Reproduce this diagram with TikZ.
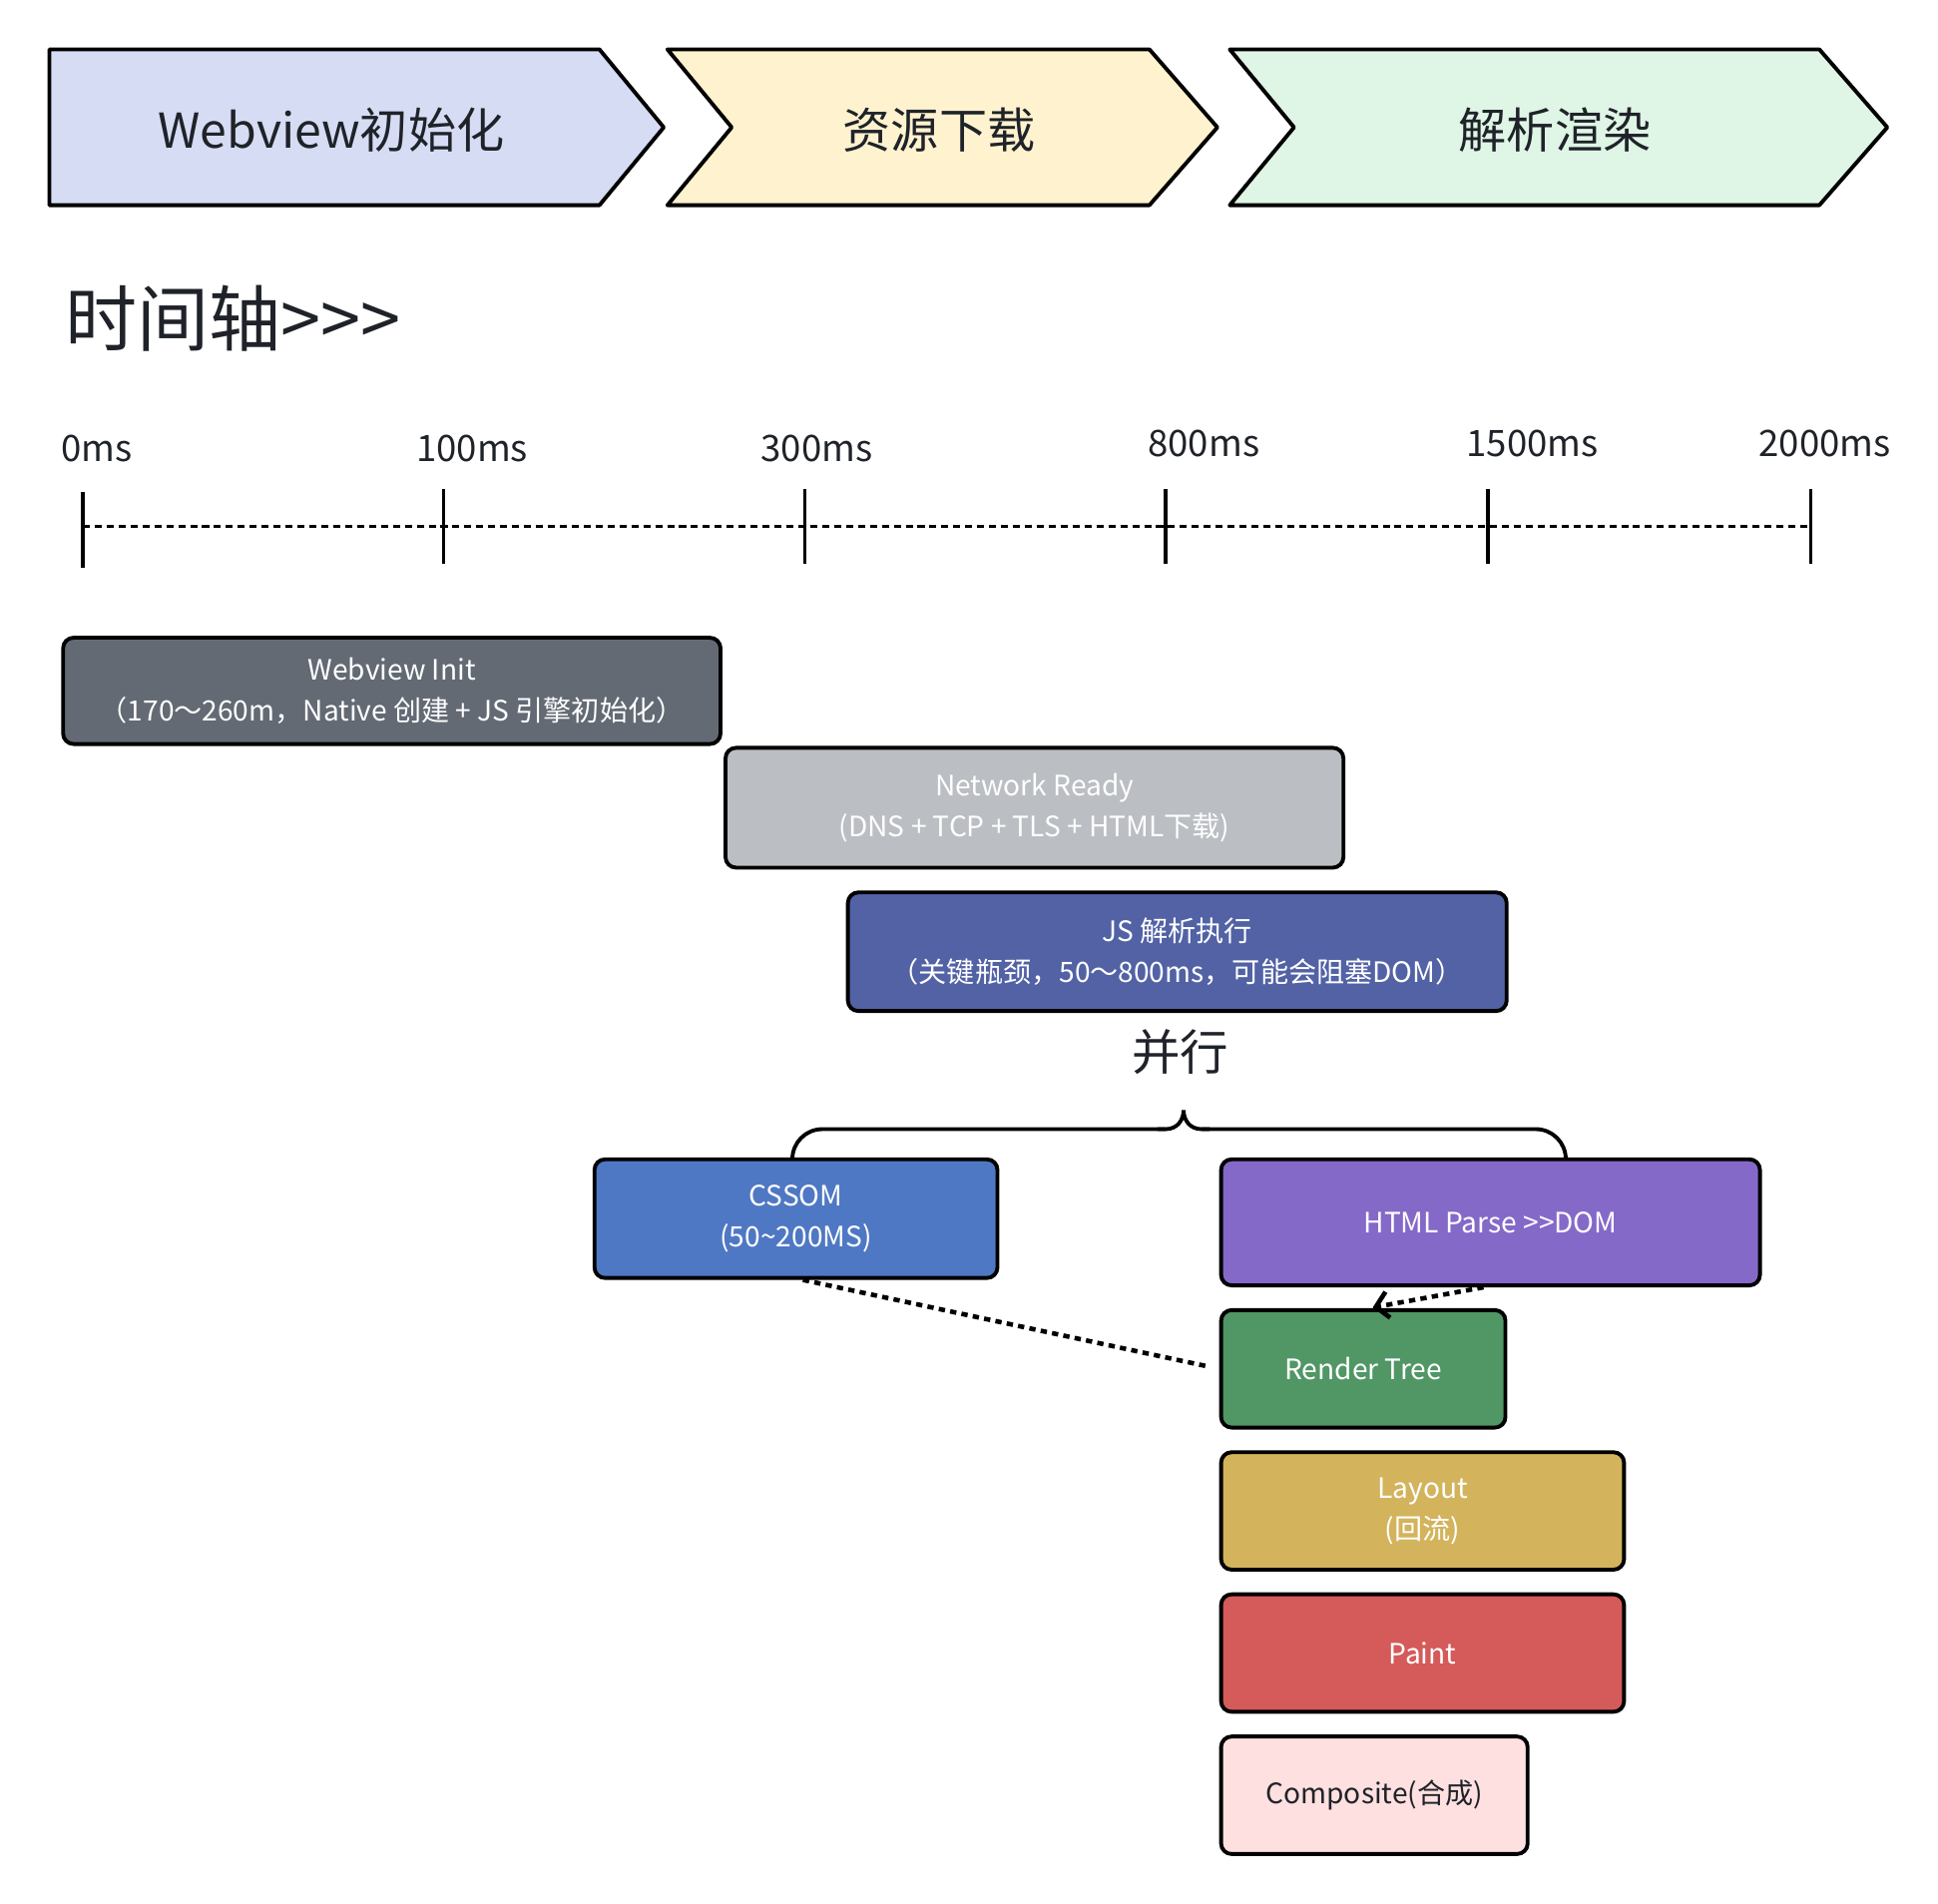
\documentclass[tikz,border=0pt]{standalone}
\usepackage{fontspec}
\setmainfont{Noto Sans CJK SC}[Ligatures=TeXOff]
\usepackage{xcolor}
\usepackage{tikz}
\usetikzlibrary{arrows.meta}

\definecolor{ink}{HTML}{1F2329}
\definecolor{chevA}{HTML}{D6DCF4}
\definecolor{chevB}{HTML}{FFF2CF}
\definecolor{chevC}{HTML}{DFF5E5}
\definecolor{initgray}{HTML}{636A74}
\definecolor{netgray}{HTML}{BBBEC3}
\definecolor{jsblue}{HTML}{5262A5}
\definecolor{cssblue}{HTML}{4F78C4}
\definecolor{htmlpurple}{HTML}{8569C9}
\definecolor{rendergreen}{HTML}{519766}
\definecolor{layoutgold}{HTML}{D3B45C}
\definecolor{paintred}{HTML}{D45B5A}
\definecolor{comppink}{HTML}{FEE0E0}

\tikzset{
  stage/.style={draw=black, line width=1.1pt, line join=round},
  phase/.style={draw=black, line width=1.1pt, rounded corners=3pt, text=white, align=center,
    font=\fontsize{8}{11.6}\selectfont, inner sep=0pt},
  tick/.style={line width=1pt},
  link/.style={line width=1.3pt, dash pattern=on 1.8pt off 1.5pt}
}

\begin{document}
\begin{tikzpicture}
  \useasboundingbox (0,0) rectangle (19.42,-19.07);

  % stages
  \draw[stage, fill=chevA] (0.495,-0.495) -- (6.007,-0.495) -- (6.651,-1.276) -- (6.007,-2.056) -- (0.495,-2.056) -- cycle;
  \draw[stage, fill=chevB] (6.688,-0.495) -- (11.518,-0.495) -- (12.199,-1.276) -- (11.518,-2.056) -- (6.688,-2.056) -- (7.332,-1.276) -- cycle;
  \draw[stage, fill=chevC] (12.323,-0.495) -- (18.231,-0.495) -- (18.912,-1.276) -- (18.231,-2.056) -- (12.323,-2.056) -- (12.967,-1.276) -- cycle;
  \node[text=ink, font=\fontsize{13.7}{16}\selectfont] (s1) at (3.32,-1.30) {Webview初始化};
  \node[text=ink, font=\fontsize{13.7}{16}\selectfont] (s2) at (9.41,-1.30) {资源下载};
  \node[text=ink, font=\fontsize{13.7}{16}\selectfont] (s3) at (15.58,-1.30) {解析渲染};

  \node[text=ink, anchor=west, inner sep=0pt, font=\fontsize{20.5}{24}\selectfont] (axis) at (0.644,-3.195) {时间轴>>>};

  % time axis
  \draw[tick, dash pattern=on 2pt off 1.4pt] (0.830,-5.276) -- (18.144,-5.276);
  \draw[tick] (0.830,-4.929) -- (0.830,-5.685);
  \foreach \x in {4.446,8.063,11.679,14.912,18.144}
    \draw[tick] (\x,-4.904) -- (\x,-5.648);
  \node[text=ink, font=\fontsize{10.4}{13}\selectfont] (t0) at (0.972,-4.496) {0ms};
  \node[text=ink, font=\fontsize{10.4}{13}\selectfont] (t1) at (4.731,-4.496) {100ms};
  \node[text=ink, font=\fontsize{10.4}{13}\selectfont] (t2) at (8.186,-4.496) {300ms};
  \node[text=ink, font=\fontsize{10.4}{13}\selectfont] (t3) at (12.063,-4.446) {800ms};
  \node[text=ink, font=\fontsize{10.4}{13}\selectfont] (t4) at (15.357,-4.446) {1500ms};
  \node[text=ink, font=\fontsize{10.4}{13}\selectfont] (t5) at (18.287,-4.446) {2000ms};

  % phases
  \node[phase, fill=initgray, minimum width=6.588cm, minimum height=1.065cm] (init) at (3.926,-6.923)
    {Webview Init\\（170～260m，Native 创建 + JS 引擎初始化）};
  \node[phase, fill=netgray, minimum width=6.192cm, minimum height=1.201cm] (net) at (10.366,-8.094)
    {Network Ready\\(DNS + TCP + TLS + HTML下载)};
  \node[phase, fill=jsblue, minimum width=6.601cm, minimum height=1.189cm] (js) at (11.797,-9.537)
    {JS 解析执行\\（关键瓶颈，50～800ms，可能会阻塞DOM）};
  \node[text=ink, font=\fontsize{13.8}{16}\selectfont] (par) at (11.828,-10.540) {并行};

  \node[phase, fill=cssblue, minimum width=4.038cm, minimum height=1.189cm] (cssom) at (7.976,-12.212)
    {CSSOM\\(50\textasciitilde200MS)};
  \node[phase, fill=htmlpurple, minimum width=5.400cm, minimum height=1.263cm] (html) at (14.936,-12.249)
    {HTML Parse >>DOM};
  \node[phase, fill=rendergreen, minimum width=2.849cm, minimum height=1.177cm] (render) at (13.661,-13.717)
    {Render Tree};
  \node[phase, fill=layoutgold, minimum width=4.038cm, minimum height=1.177cm] (layout) at (14.255,-15.141)
    {Layout\\(回流)};
  \node[phase, fill=paintred, minimum width=4.038cm, minimum height=1.177cm] (paint) at (14.255,-16.565)
    {Paint};
  \node[phase, fill=comppink, text=ink, minimum width=3.072cm, minimum height=1.177cm] (comp) at (13.772,-17.990)
    {Composite(合成)};

  % brace over the parallel branches
  \draw[line width=1.1pt, rounded corners=0.3cm] (7.94,-11.617) |- (11.68,-11.315);
  \draw[line width=1.1pt] (11.60,-11.315) -- (11.68,-11.315) .. controls (11.80,-11.315) and (11.86,-11.22) .. (11.86,-11.125)
    .. controls (11.86,-11.22) and (11.92,-11.315) .. (12.04,-11.315) -- (12.12,-11.315);
  \draw[line width=1.1pt, rounded corners=0.3cm] (12.04,-11.315) -| (15.69,-11.617);

  % links
  \draw[link, shorten >=3pt] ([xshift=2pt]cssom.south) -- (render.west);
  \draw[link, -{Straight Barb[length=3.5pt,width=7.5pt]}, shorten >=1pt] ([xshift=-2pt]html.south) -- ([xshift=1.7pt]render.north);
\end{tikzpicture}
\end{document}
